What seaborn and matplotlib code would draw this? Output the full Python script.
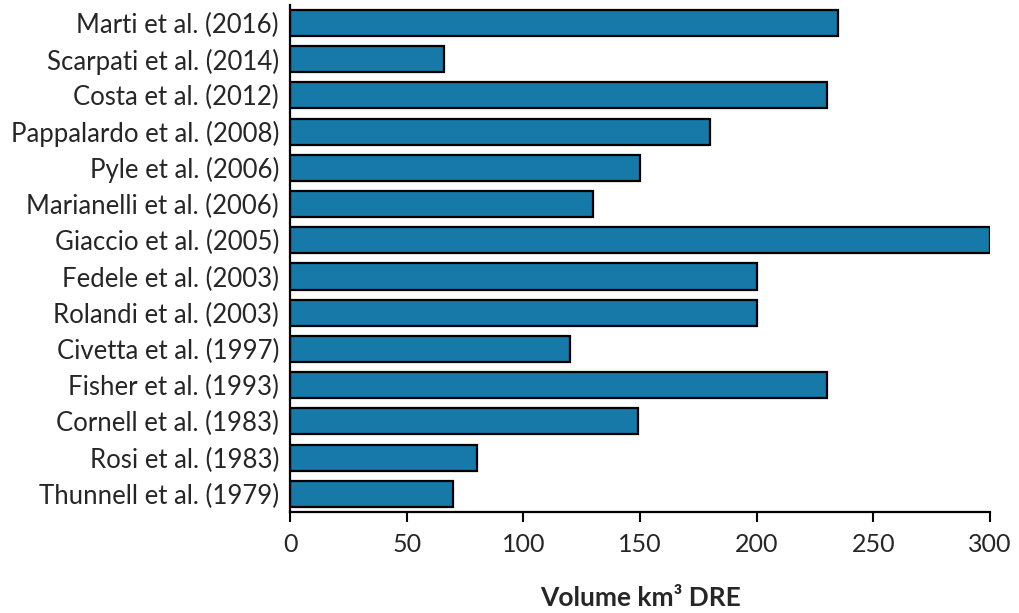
import pandas as pd
import matplotlib
matplotlib.use('Agg')
import matplotlib.pyplot as plt
import seaborn as sns

studies = ['Marti et al. (2016)', 'Scarpati et al. (2014)', 'Costa et al. (2012)',
           'Pappalardo et al. (2008)', 'Pyle et al. (2006)', 'Marianelli et al. (2006)',
           'Giaccio et al. (2005)', 'Fedele et al. (2003)', 'Rolandi et al. (2003)',
           'Civetta et al. (1997)', 'Fisher et al. (1993)', 'Cornell et al. (1983)',
           'Rosi et al. (1983)', 'Thunnell et al. (1979)']
volumes = [235, 66, 230, 180, 150, 130, 300, 200, 200, 120, 230, 149, 80, 70]
xticks = [0, 50, 100, 150, 200, 250, 300]

df = pd.DataFrame({'Study': studies, 'Volume': volumes})

sns.set_style('ticks')
plt.rcParams['font.family'] = ['Lato', 'DejaVu Sans']

fig = plt.figure(figsize=(10.19, 6.13), dpi=100)
ax = fig.add_axes([0.2846, 0.165, 0.687, 0.827])
sns.barplot(data=df, x='Volume', y='Study', orient='h', color='#1679a8',
            saturation=1, edgecolor='black', linewidth=1.6, width=0.72, ax=ax)

ax.set_xlim(0, 300)
ax.set_ylim(len(studies) - 0.5, -0.5)
ax.set_xticks(xticks)
ax.tick_params(axis='x', length=7, width=1.5, labelsize=18, pad=8, color='black')
ax.tick_params(axis='y', length=0, labelsize=18.5, pad=8)
ax.set_ylabel('')
ax.set_xlabel('Volume km³ DRE', fontsize=19, fontweight='bold', labelpad=22)
for s in ['top', 'right']:
    ax.spines[s].set_visible(False)
for s in ['left', 'bottom']:
    ax.spines[s].set_linewidth(1.6)
    ax.spines[s].set_color('black')

plt.savefig('out.png', dpi=100)
